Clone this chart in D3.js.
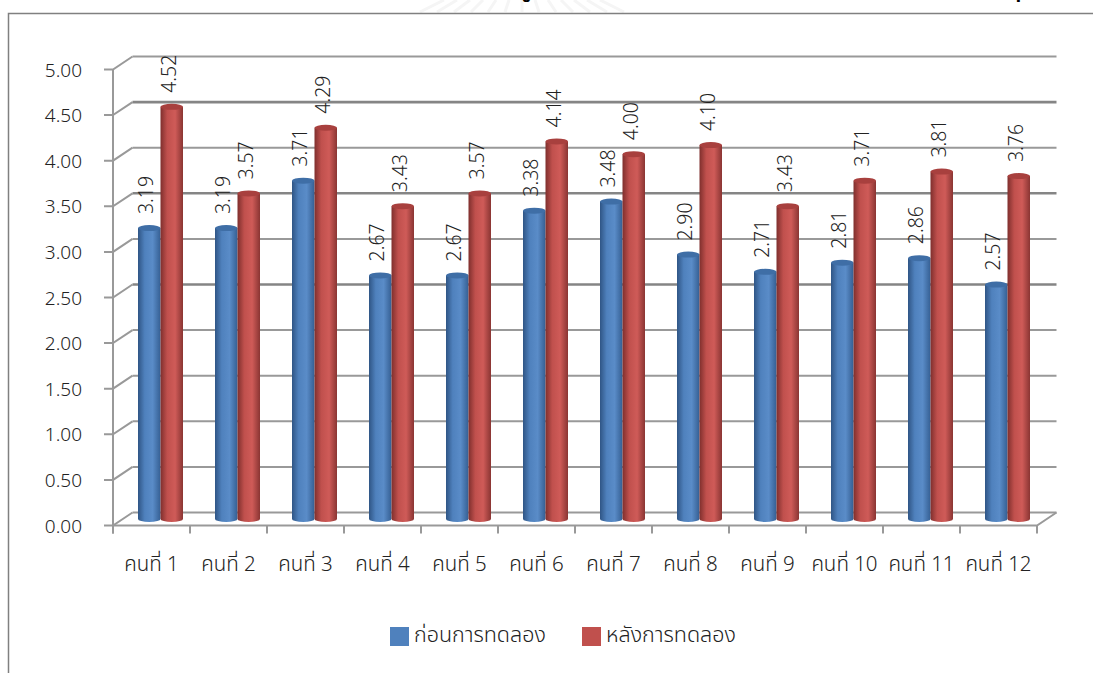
<!DOCTYPE html>
<html>
<head>
<meta charset="utf-8">
<script src="https://cdn.jsdelivr.net/npm/d3@7"></script>
<style>
  html, body { margin: 0; padding: 0; background: #fff; overflow: hidden; }
  text { font-family: "Noto Sans", "Noto Sans Thai", sans-serif; font-weight: 300; fill: #222; }
</style>
</head>
<body>
<svg id="canvas" width="1093" height="673"></svg>
<script>
let categories = ["คนที่ 1", "คนที่ 2", "คนที่ 3", "คนที่ 4", "คนที่ 5", "คนที่ 6", "คนที่ 7", "คนที่ 8", "คนที่ 9", "คนที่ 10", "คนที่ 11", "คนที่ 12"];
let seriesNames = ["ก่อนการทดลอง", "หลังการทดลอง"];
let before = [3.19, 3.19, 3.71, 2.67, 2.67, 3.38, 3.48, 2.90, 2.71, 2.81, 2.86, 2.57];
let after = [4.52, 3.57, 4.29, 3.43, 3.57, 4.14, 4.00, 4.10, 3.43, 3.71, 3.81, 3.76];
let tickValues = [0, 0.5, 1, 1.5, 2, 2.5, 3, 3.5, 4, 4.5, 5];
let heavyTicks = [2.5, 3.5, 4.5];

let svg = d3.select("#canvas");
let depth = { x: 19.5, y: -13 };
let x = d3.scaleBand().domain(categories).range([113, 1037]);
let y = d3.scaleLinear().domain([0, 5]).range([525.5, 69.5]);
let inner = d3.scaleBand().domain([0, 1]).range([25, 70]);

// gradients for the cylinders
let defs = svg.append("defs");
[["blue", "#2f5585", "#4f81bd", "#5a8cc8", "#355f93"], ["red", "#7f2f2d", "#c0504d", "#cf5b58", "#8a3533"]].forEach(g => {
  let lg = defs.append("linearGradient").attr("id", "grad-" + g[0]);
  lg.append("stop").attr("offset", "0%").attr("stop-color", g[1]);
  lg.append("stop").attr("offset", "30%").attr("stop-color", g[2]);
  lg.append("stop").attr("offset", "65%").attr("stop-color", g[3]);
  lg.append("stop").attr("offset", "100%").attr("stop-color", g[4]);
});

// faint crest watermark and the bottom of the cropped title above the frame
svg.append("g").attr("stroke", "#f5f5f5").attr("stroke-width", 3)
  .selectAll("line").data(d3.range(-6, 7)).enter().append("line")
  .attr("x1", d => 522 + d * 13).attr("y1", 0)
  .attr("x2", d => 522 + d * 17).attr("y2", 12);
svg.append("text").attr("x", 518).attr("y", -4).attr("font-size", 22)
  .style("font-weight", 700).style("fill", "#000").text("บู");
svg.append("text").attr("x", 1008).attr("y", -4).attr("font-size", 22)
  .style("font-weight", 700).style("fill", "#000").text("บุ");

// chart frame, runs off the picture on the right and bottom
svg.append("path")
  .attr("d", "M8.5,700V13.5H1100")
  .attr("fill", "none").attr("stroke", "#808080").attr("stroke-width", 1.5);

let grid = svg.append("g").attr("fill", "none").attr("stroke", "#999").attr("stroke-width", 2);
tickValues.forEach(v => {
  let heavy = heavyTicks.includes(v);
  grid.append("path")
    .attr("d", `M${x.range()[0] - 9},${y(v)}H${x.range()[0]}L${x.range()[0] + depth.x},${y(v) + depth.y}`);
  grid.append("path")
    .attr("stroke", heavy ? "#858585" : "#999")
    .attr("stroke-width", heavy ? 2.6 : 2)
    .attr("d", `M${x.range()[0] + depth.x},${y(v) + depth.y}H${x.range()[1] + depth.x}`);
});
grid.append("path").attr("d", `M113,${y(5)}V${y(0) + 8}`);
grid.append("path").attr("d", `M113,${y(0)}H${x.range()[1]}L${x.range()[1] + depth.x},${y(0) + depth.y}`);
d3.range(categories.length + 1).forEach(i => {
  let tx = x.range()[0] + i * x.step();
  grid.append("path").attr("d", `M${tx},${y(0)}V${y(0) + 8}`);
});

svg.append("g").selectAll("text").data(tickValues).enter().append("text")
  .attr("x", 82).attr("y", d => y(d) + 7)
  .attr("text-anchor", "end").attr("font-size", 19)
  .text(d => d.toFixed(2));

svg.append("g").selectAll("text").data(categories).enter().append("text")
  .attr("x", d => x(d) + x.bandwidth() / 2).attr("y", 571)
  .attr("text-anchor", "middle").attr("font-size", 20.5)
  .text(d => d);

// cylinder: body with an ellipse cap, centred half way into the floor depth
let base = y(0) + depth.y / 2;
let rx = inner.bandwidth() / 2, ry = 3;
let drawBars = (values, idx, name) => {
  let g = svg.append("g").selectAll("g").data(values).enter().append("g");
  let cx = i => x(categories[i]) + inner(idx) + rx;
  let top = d => y(d) + depth.y / 2;
  g.append("path")
    .attr("d", (d, i) => `M${cx(i) - rx},${top(d)}V${base}A${rx},${ry} 0 0 0 ${cx(i) + rx},${base}V${top(d)}Z`)
    .attr("fill", `url(#grad-${name})`);
  g.append("ellipse")
    .attr("cx", (d, i) => cx(i)).attr("cy", top).attr("rx", rx).attr("ry", ry)
    .attr("fill", name == "blue" ? "#3f6ea6" : "#a8403e");
  g.append("text")
    .attr("transform", (d, i) => `translate(${cx(i) - 3},${top(d) - 14}) rotate(-90)`)
    .attr("font-size", 19.5).attr("dy", "0.35em")
    .text(d => d.toFixed(2));
};
drawBars(before, 0, "blue");
drawBars(after, 1, "red");

// legend
let legendX = [390, 582], legendFill = ["#4f81bd", "#c0504d"];
seriesNames.forEach((s, i) => {
  svg.append("rect").attr("x", legendX[i]).attr("y", 627).attr("width", 19).attr("height", 19).attr("fill", legendFill[i]);
  svg.append("text").attr("x", legendX[i] + 24).attr("y", 642).attr("font-size", 21.5).text(s);
});
</script>
</body>
</html>
